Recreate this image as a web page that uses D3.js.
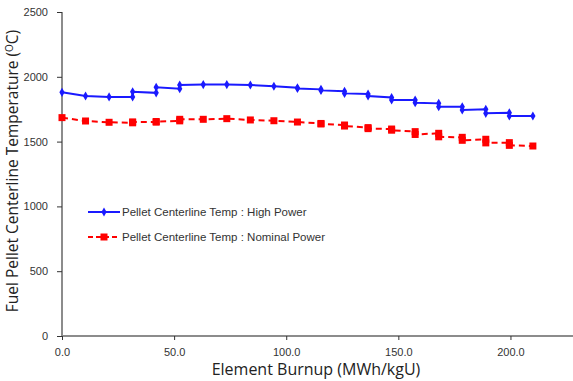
<!DOCTYPE html>
<html><head><meta charset="utf-8">
<script src="https://cdn.jsdelivr.net/npm/d3@7"></script>
<style>
body{margin:0;background:#fff;}
svg{display:block;}
</style></head>
<body>
<svg id="c" width="573" height="381"></svg>
<script>
// Data (burnup in MWh/kgU, temperature in °C); repeated x = step changes
const highBurnup = [0,10.5,21,31.5,31.5,42,42,52.5,52.5,63,73.5,84,94.5,105,105,115.5,115.5,126,126,136.5,136.5,147,147,157.5,157.5,168,168,178.5,178.5,189,189,199.5,199.5,210];
const highTemp   = [1880,1852,1845,1845,1885,1876,1919,1908,1937,1940,1940,1937,1927,1916,1910,1903,1895,1888,1872,1867,1852,1840,1821,1821,1800,1795,1769,1769,1744,1749,1718,1723,1698,1698];
const nomBurnup  = [0,10.5,21,31.5,31.5,42,42,52.5,52.5,63,73.5,84,94.5,105,115.5,115.5,126,126,136.5,136.5,147,147,157.5,157.5,168,168,178.5,178.5,189,189,199.5,199.5,210];
const nomTemp    = [1685,1659,1649,1645,1652,1650,1655,1660,1672,1672,1677,1667,1661,1651,1640,1636,1628,1620,1608,1600,1597,1588,1577,1555,1564,1537,1533,1510,1518,1490,1492,1471,1466];
const seriesNames = ["Pellet Centerline Temp : High Power","Pellet Centerline Temp : Nominal Power"];
const xTicks = [0,50,100,150,200];
const yTicks = [0,500,1000,1500,2000,2500];

const svg = d3.select("#c");
const L=62, R=571, T=12, B=336;
const x = d3.scaleLinear().domain([0,227]).range([L,R]);
const y = d3.scaleLinear().domain([0,2500]).range([B,T]);

const axisColor="#8c8c8c", textColor="#333";
const ya = svg.append("g").attr("transform",`translate(${L},0)`)
  .call(d3.axisLeft(y).tickValues(yTicks).tickSize(5).tickPadding(9).tickFormat(d3.format("d")));
const xa = svg.append("g").attr("transform",`translate(0,${B})`)
  .call(d3.axisBottom(x).tickValues(xTicks).tickSize(4).tickPadding(8).tickFormat(d3.format(".1f")));
xa.select(".domain").attr("d",`M${L},0H${R+2}`);
ya.select(".domain").attr("d",`M0,${B}V${T}`);
[xa,ya].forEach(a=>{
  a.selectAll(".domain").attr("stroke",axisColor).attr("stroke-width",2);
  a.selectAll(".tick line").attr("stroke","#333").attr("stroke-width",1);
  a.selectAll("text").attr("fill",textColor).style("font-family","'Liberation Sans',Arial,sans-serif").style("font-size","11px");
});

const mk = (xs,ys)=>xs.map((v,i)=>[v,ys[i]]);
const line = d3.line().x(d=>x(d[0])).y(d=>y(d[1]));
const hi = mk(highBurnup,highTemp), nm = mk(nomBurnup,nomTemp);

const blue="#1a1aff", red="#ff0000";
svg.append("path").datum(nm).attr("d",line).attr("fill","none").attr("stroke",red).attr("stroke-width",2).attr("stroke-dasharray","6,4");
svg.append("g").selectAll("rect").data(nm).join("rect")
  .attr("x",d=>x(d[0])-3.5).attr("y",d=>y(d[1])-3.5).attr("width",7).attr("height",7).attr("fill",red);
svg.append("path").datum(hi).attr("d",line).attr("fill","none").attr("stroke",blue).attr("stroke-width",2);
const diamond = d3.symbol().type(d3.symbolDiamond).size(24);
svg.append("g").selectAll("path").data(hi).join("path")
  .attr("d",diamond).attr("transform",d=>`translate(${x(d[0])},${y(d[1])})`).attr("fill",blue);

// legend
const lg = svg.append("g").style("font-family","'Liberation Sans',Arial,sans-serif").style("font-size","11.5px");
const ly=[212,237];
lg.append("line").attr("x1",88).attr("x2",120).attr("y1",ly[0]).attr("y2",ly[0]).attr("stroke",blue).attr("stroke-width",2);
lg.append("path").attr("d",diamond).attr("transform",`translate(104,${ly[0]})`).attr("fill",blue);
lg.append("line").attr("x1",88).attr("x2",120).attr("y1",ly[1]).attr("y2",ly[1]).attr("stroke",red).attr("stroke-width",2).attr("stroke-dasharray","5,3");
lg.append("rect").attr("x",100.5).attr("y",ly[1]-3.5).attr("width",7).attr("height",7).attr("fill",red);
seriesNames.forEach((n,i)=>lg.append("text").attr("x",122).attr("y",ly[i]).attr("dy","0.35em").attr("fill",textColor).text(n));

// axis titles
svg.append("text").attr("x",316).attr("y",375).attr("text-anchor","middle")
  .style("font-family","'Open Sans','Liberation Sans',sans-serif").style("font-size","16px").attr("fill","#222")
  .text("Element Burnup (MWh/kgU)");
const yt = svg.append("text").attr("transform",`translate(18,171) rotate(-90)`).attr("text-anchor","middle")
  .style("font-family","'Open Sans','Liberation Sans',sans-serif").style("font-size","15.5px").attr("fill","#222");
yt.append("tspan").text("Fuel Pellet Centerline Temperature (");
yt.append("tspan").attr("dy","-5").style("font-size","10px").text("O");
yt.append("tspan").attr("dy","5").text("C)");
</script>
</body></html>
